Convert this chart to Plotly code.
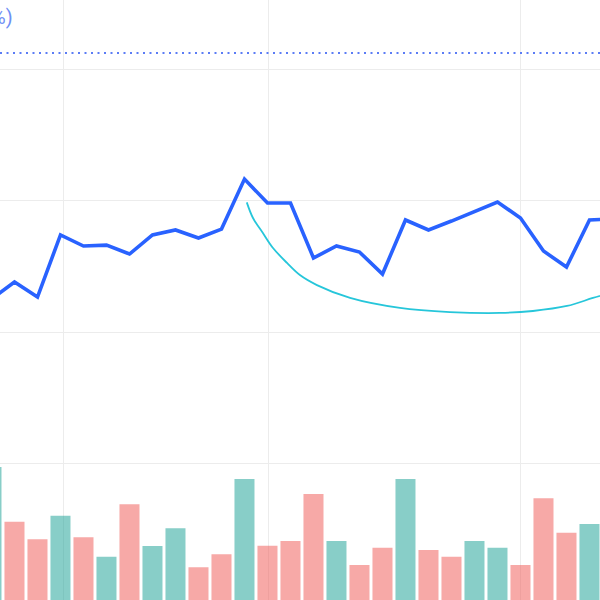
import plotly.graph_objects as go

# Trading-day index of each session (bar / price point positions)
day_index = list(range(-1, 27))

# Closing price per session
close_price = [102.5, 103.8, 102.66, 107.38, 106.54, 106.61, 105.93, 107.38, 107.76, 107.15,
               107.83, 111.63, 109.81, 109.81, 105.63, 106.54, 106.08, 104.41, 108.52, 107.76,
               108.44, 109.20, 109.89, 108.67, 106.16, 104.94, 108.52, 108.6]

# Volume per session (millions) and direction (1 = up, 0 = down)
volume = [17.3, 11.83, 10.07, 12.43, 10.27, 8.33, 13.57, 9.4, 11.17, 7.27,
          8.57, 16.1, 9.43, 9.9, 14.6, 9.9, 7.5, 9.23, 16.1, 9.0,
          8.33, 9.9, 9.23, 7.5, 14.17, 10.73, 11.6, 9.0]
direction = [1, 0, 0, 1, 0, 1, 0, 1, 1, 0,
             0, 1, 0, 0, 0, 1, 0, 0, 1, 0,
             0, 1, 1, 0, 0, 0, 1, 1]

# Fitted "cup" curve (index, price)
cup_x = [10.10, 10.37, 10.80, 11.24, 11.85, 12.41, 13.15, 14.59, 16.76, 18.93,
         21.11, 22.54, 24.02, 25.15, 25.89]
cup_y = [109.86, 108.67, 107.53, 106.39, 105.25, 104.33, 103.57, 102.59, 101.83, 101.52,
         101.45, 101.60, 101.98, 102.59, 102.97]

# Target level and its label
target_price = 121.22
target_label = "Target 121.2 (+11.7%)"

# Axis gridline positions
price_grid = [90, 100, 110, 120]
month_starts = [2.12, 11.03, 22.0]

UP = "rgba(38,166,154,0.55)"
DOWN = "rgba(239,83,80,0.5)"

fig = go.Figure()

fig.add_trace(go.Scatter(x=day_index, y=close_price, mode="lines",
                         line=dict(color="#2962ff", width=3.6), yaxis="y",
                         showlegend=False, hoverinfo="skip"))
fig.add_trace(go.Scatter(x=cup_x, y=cup_y, mode="lines",
                         line=dict(color="#26c6da", width=1.8, shape="spline"),
                         yaxis="y", showlegend=False, hoverinfo="skip"))
fig.add_trace(go.Bar(x=day_index, y=volume,
                     marker=dict(color=[UP if d else DOWN for d in direction], line_width=0),
                     yaxis="y2", showlegend=False, hoverinfo="skip"))

fig.add_shape(type="line", xref="paper", x0=0, x1=1, yref="y", y0=target_price, y1=target_price,
              line=dict(color="#5b7cf5", width=2, dash="2px,4.5px"))

fig.add_annotation(text=target_label, xref="paper", yref="paper", x=15 / 600, y=1 - 17 / 600,
                   xanchor="right", yanchor="middle", showarrow=False,
                   font=dict(family="Roboto", size=20, color="#6f8ef5"))

fig.update_layout(
    width=600, height=600,
    margin=dict(l=0, r=0, t=0, b=0),
    paper_bgcolor="white", plot_bgcolor="white",
    bargap=0.13,
    xaxis=dict(range=[-0.630, 25.457], tickvals=month_starts, showticklabels=False,
               showgrid=True, gridcolor="#ececec", gridwidth=1, zeroline=False, showline=False,
               ticks=""),
    yaxis=dict(range=[79.62, 125.25], tickvals=price_grid, showticklabels=False,
               showgrid=True, gridcolor="#ececec", gridwidth=1, zeroline=False, showline=False,
               ticks=""),
    yaxis2=dict(range=[4, 64], overlaying="y", showgrid=False, showticklabels=False,
                zeroline=False, showline=False, ticks=""),
)

fig.write_html("out.html",
               config={"displayModeBar": False},
               post_script="document.body.style.margin='0';document.body.style.padding='0';"
                           "document.body.style.overflow='hidden';")
